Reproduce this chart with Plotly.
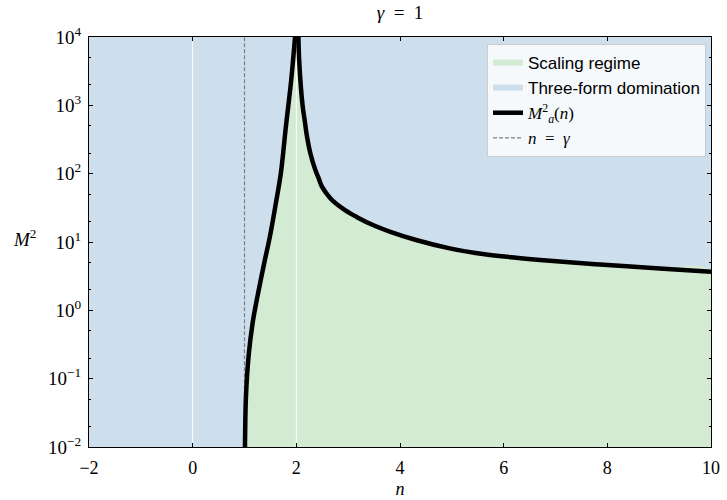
import plotly.graph_objects as go

# ---- data ----
n_left = [1.003, 1.01, 1.028, 1.078, 1.156, 1.25, 1.38, 1.49, 1.60, 1.70, 1.80, 1.90, 1.975]
m2_left = [0.003, 0.012, 0.054, 0.21, 0.65, 1.6, 4.9, 12.0, 35.0, 100.0, 500.0, 2300.0, 10000.0]

n_right = [2.04, 2.058, 2.12, 2.16, 2.206, 2.27, 2.367, 2.43, 2.497, 2.593, 2.69, 2.947, 3.17,
           3.5, 3.8, 4.31, 4.96, 5.6, 6.24, 6.89, 7.86, 9.01, 10.0]
m2_right = [10000.0, 4100.0, 1000.0, 610.0, 347.0, 199.0, 113.0, 86.0, 64.0, 50.0, 41.0, 29.0,
            23.1, 17.4, 14.2, 10.7, 8.07, 6.67, 5.89, 5.32, 4.68, 4.09, 3.67]

gamma = 1.0
x_range = [-2, 10]
y_range = [1e-2, 1e4]
y_floor = 1e-3
white_lines = [0, 2]
y_tickvals = [1e-2, 1e-1, 1e0, 1e1, 1e2, 1e3, 1e4]
y_ticktext = ["10<sup>−2</sup>", "10<sup>−1</sup>", "10<sup>0</sup>", "10<sup>1</sup>",
              "10<sup>2</sup>", "10<sup>3</sup>", "10<sup>4</sup>"]

green = "#d3ead3"
blue = "#cddeec"
serif = "Liberation Serif"
sans = "Liberation Sans"

fig = go.Figure()

# Three-form domination (whole region), drawn first
fig.add_trace(go.Scatter(
    x=[x_range[0], x_range[1], x_range[1], x_range[0]],
    y=[y_floor, y_floor, 1e5, 1e5],
    fill="toself", fillcolor=blue, mode="none",
    name="Three-form domination", legendrank=2, hoverinfo="skip"))

# Scaling regime (below the curve)
fig.add_trace(go.Scatter(
    x=n_left + n_right + [n_right[-1], n_left[0]],
    y=m2_left + m2_right + [y_floor, y_floor],
    fill="toself", fillcolor=green, mode="none",
    line=dict(shape="spline", smoothing=1.0),
    name="Scaling regime", legendrank=1, hoverinfo="skip"))

# thin white vertical lines
for xv in white_lines:
    fig.add_trace(go.Scatter(x=[xv, xv], y=[y_floor, 1e5], mode="lines",
                             line=dict(color="white", width=1), showlegend=False,
                             hoverinfo="skip"))

# n = gamma dashed line
fig.add_trace(go.Scatter(
    x=[gamma, gamma], y=[y_floor, 1e5], mode="lines",
    line=dict(color="#7f7f7f", width=1.2, dash="4px,2px"),
    name='<span style="font-family:Liberation Serif"><i>n</i>\u2002=\u2002<i>γ</i></span>',
    legendrank=4))

# M_a^2(n) curve
fig.add_trace(go.Scatter(
    x=n_left + [None] + n_right, y=m2_left + [None] + m2_right,
    mode="lines", line=dict(color="black", width=4.5, shape="spline", smoothing=1.0),
    connectgaps=False,
    name='<span style="font-family:Liberation Serif"><i>M</i><sup>2</sup><sub><i>a</i></sub>(<i>n</i>)</span>',
    legendrank=3))

fig.update_layout(
    width=727, height=500,
    margin=dict(l=89, r=16, t=37, b=53),
    paper_bgcolor="white", plot_bgcolor=blue,
    font=dict(family=serif, size=18, color="black"),
    title=dict(text="<i>γ</i>\u2002=\u20021", x=0.5, xref="paper", y=0.975, yanchor="middle",
               font=dict(family=serif, size=19)),
    legend=dict(x=0.992, y=0.983, xanchor="right", yanchor="top",
                bgcolor="rgba(255,255,255,0.8)", bordercolor="#cccccc", borderwidth=1,
                font=dict(family=sans, size=17), tracegroupgap=0),
    showlegend=True,
)

fig.update_xaxes(
    range=x_range, dtick=2, tick0=0, showgrid=False, zeroline=False, automargin=False,
    showline=True, linecolor="black", linewidth=1, mirror="ticks",
    ticks="inside", ticklen=4, tickcolor="black", ticklabelstandoff=4,
    title=dict(text="<i>n</i>", standoff=5, font=dict(family=serif, size=18)),
)
fig.update_yaxes(
    type="log", range=[-2, 4], tickvals=y_tickvals, ticktext=y_ticktext, showgrid=False,
    zeroline=False, showline=True, linecolor="black", linewidth=1, mirror="ticks",
    ticks="inside", ticklen=4, tickcolor="black", ticklabelstandoff=3, automargin=False,
    tickfont=dict(size=19),
    minor=dict(ticks="inside", ticklen=2, tickcolor="black", showgrid=False),
)

fig.add_annotation(text="<i>M</i><sup>2</sup>", xref="paper", yref="paper",
                   x=-0.104, y=0.51, xanchor="center", yanchor="middle",
                   showarrow=False, font=dict(family=serif, size=19))

fig.write_html("out.html", config={"displayModeBar": False},
               post_script="document.body.style.margin='0px';document.body.style.overflow='hidden';")
